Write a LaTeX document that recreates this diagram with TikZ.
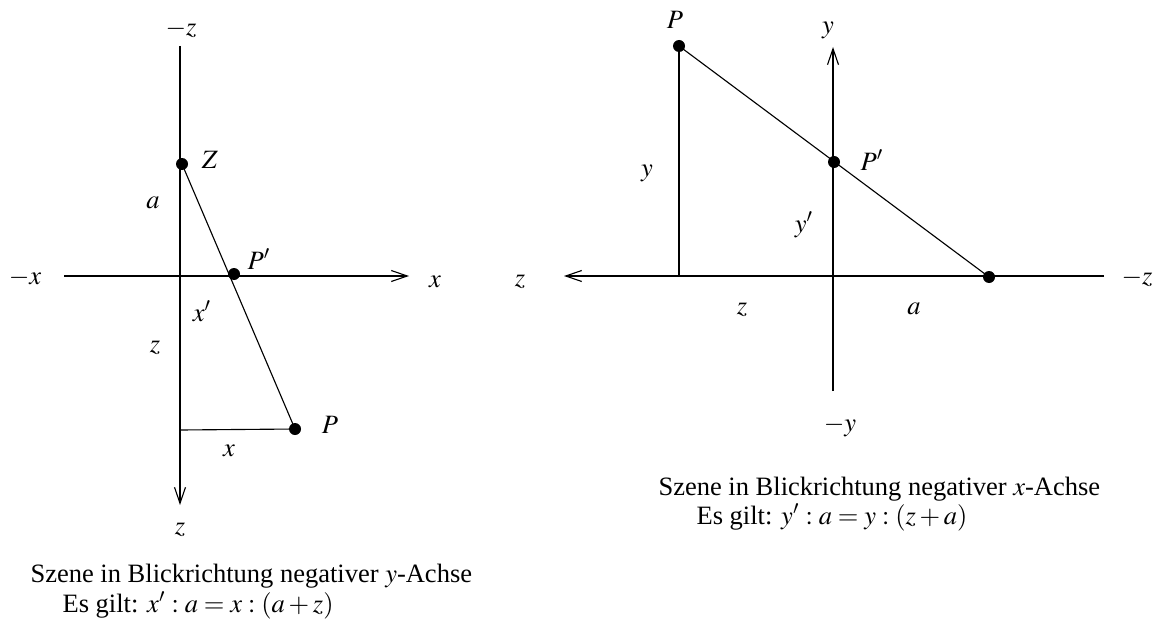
\documentclass[tikz,border=0pt]{standalone}
\usepackage{mathptmx}
\usepackage[no-math]{fontspec}
\setmainfont{Liberation Serif}
\usetikzlibrary{arrows.meta}
\begin{document}
\begin{tikzpicture}[x=0.4pt,y=-0.4pt,line width=0.45pt,
  font=\fontsize{10.6}{13}\selectfont,
  dot/.style={circle,fill,inner sep=0pt,minimum size=4.8pt},
  lbl/.style={inner sep=0pt},
  captext/.style={inner sep=0pt,anchor=base west},
  axis/.style={-{Straight Barb[length=6.4pt,width=4.4pt]}}]
\useasboundingbox (0,0) rectangle (1164,619);
% ---------- left scene ----------
\coordinate (Ltop) at (180,46);
\coordinate (Lbot) at (180,505);
\coordinate (Lleft) at (64,276);
\coordinate (Lright) at (409,276);
\coordinate (Lfoot) at (180,430);
\node[dot] (Z) at (182,164) {};
\node[dot] (LPp) at (234,274) {};
\node[dot] (LP) at (295,429) {};
\draw[axis] (Ltop) -- (Lbot);
\draw[axis] (Lleft) -- (Lright);
\draw (Z.center) -- (LP.center);
\draw (Lfoot) -- (LP.center);
\node[lbl] (lmz) at (181,29) {$-z$};
\node[lbl] (lmx) at (25,278) {$-x$};
\node[lbl] (lx) at (435,282) {$x$};
\node[lbl] (lZ) at (210,160) {$Z$};
\node[lbl] (la) at (153,203) {$a$};
\node[lbl] (lPp) at (259,259) {$P'$};
\node[lbl] (lxp) at (202,311) {$x'$};
\node[lbl] (lz) at (155,348) {$z$};
\node[lbl] (lP) at (330,425) {$P$};
\node[lbl] (lxx) at (229,451) {$x$};
\node[lbl] (lzb) at (180,530) {$z$};
\node[captext] (cap1) at (30,582) {Szene in Blickrichtung negativer $y$-Achse};
\node[captext] (cap2) at (62,612) {Es gilt: $x':a=x:(a+z)$};
% ---------- right scene ----------
\coordinate (Rleft) at (564,276);
\coordinate (Rright) at (1104,276);
\coordinate (Rtop) at (833,47);
\coordinate (Rbot) at (833,391);
\coordinate (RPfoot) at (679,276);
\node[dot] (RP) at (679,46) {};
\node[dot] (RPp) at (834,162) {};
\node[dot] (RZ) at (989,277) {};
\draw[axis] (Rright) -- (Rleft);
\draw[axis] (Rbot) -- (Rtop);
\draw (RP.center) -- (RPfoot);
\draw (RP.center) -- (RZ.center);
\node[lbl] (rP) at (675,20) {$P$};
\node[lbl] (ry) at (828,30) {$y$};
\node[lbl] (rPp) at (872,160) {$P'$};
\node[lbl] (ryy) at (647,173) {$y$};
\node[lbl] (ryp) at (804,225) {$y'$};
\node[lbl] (rz) at (520,282) {$z$};
\node[lbl] (rmz) at (1137,278) {$-z$};
\node[lbl] (rzz) at (742,310) {$z$};
\node[lbl] (ra) at (914,309) {$a$};
\node[lbl] (rmy) at (840,426) {$-y$};
\node[captext] (cap3) at (658,495) {Szene in Blickrichtung negativer $x$-Achse};
\node[captext] (cap4) at (696,524) {Es gilt: $y':a=y:(z+a)$};
\end{tikzpicture}
\end{document}
